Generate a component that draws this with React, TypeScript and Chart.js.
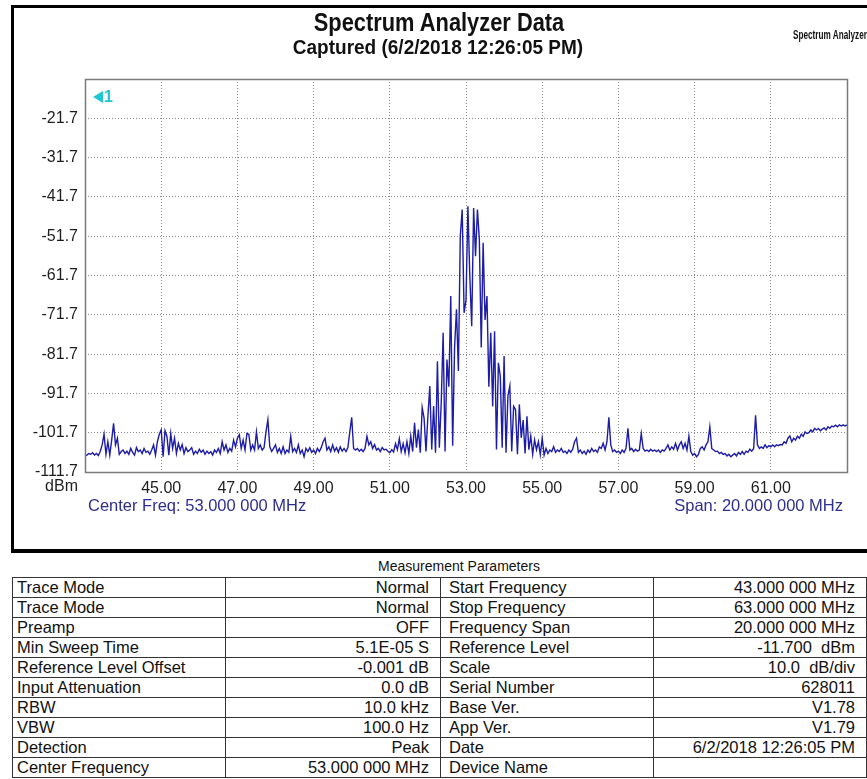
import React, { useEffect, useRef } from "react";
import { Chart, registerables } from "chart.js";

Chart.register(...registerables);

// ---- data ----
const START_MHZ = 43;
const STEP_MHZ = 0.05;
const X_MIN = 43;
const X_MAX = 63;
const Y_MIN = -111.7;
const Y_MAX = -11.7;
const X_TICKS = [45, 47, 49, 51, 53, 55, 57, 59, 61];
const Y_TICKS = [-111.7, -101.7, -91.7, -81.7, -71.7, -61.7, -51.7, -41.7, -31.7, -21.7, -11.7];

// 43.00 – 47.95 MHz
const LEVELS_A = [
  -107.6, -107.4, -107.0, -107.2, -106.8, -107.4, -107.0, -107.5, -106.5, -104.8, -102.1, -107.2, -104.0, -107.4, -103.6, -99.3, -104.8, -103.1, -107.2, -106.5,
  -106.1, -107.0, -106.4, -107.2, -105.7, -106.7, -107.4, -105.5, -106.5, -106.1, -107.0, -105.7, -106.7, -106.4, -107.2, -106.1, -104.8, -107.4, -104.0, -102.1,
  -101.0, -107.8, -101.2, -102.6, -107.4, -101.9, -105.7, -103.1, -107.0, -104.4, -106.1, -104.7, -107.0, -105.5, -106.5, -106.1, -105.5, -107.2, -106.4, -107.0,
  -105.9, -106.7, -106.1, -107.2, -106.4, -107.0, -106.5, -107.4, -106.1, -106.7, -105.7, -107.0, -104.0, -106.1, -104.8, -106.7, -105.7, -106.4, -103.6, -105.3,
  -103.1, -102.2, -105.7, -103.6, -106.1, -101.9, -102.1, -106.1, -104.8, -106.1, -101.5, -105.7, -104.8, -106.1, -105.5, -101.5, -98.4, -105.3, -106.5, -105.7,
];
// 48.00 – 52.95 MHz
const LEVELS_B = [
  -104.8, -106.7, -105.7, -107.0, -105.3, -107.0, -106.1, -106.7, -102.6, -106.5, -105.7, -106.7, -104.8, -107.0, -106.1, -107.8, -105.7, -106.5, -105.5, -106.7,
  -106.1, -107.0, -105.7, -106.5, -105.5, -104.0, -103.1, -106.1, -105.3, -106.5, -104.8, -106.4, -105.5, -106.7, -105.3, -106.4, -105.7, -106.5, -105.5, -101.5,
  -97.8, -105.7, -106.1, -105.7, -106.4, -105.9, -106.5, -105.7, -102.6, -104.8, -104.0, -105.7, -104.7, -106.1, -105.7, -106.5, -105.5, -106.1, -105.9, -106.4,
  -106.8, -106.0, -106.6, -104.5, -106.0, -103.2, -106.5, -104.5, -106.8, -104.0, -107.0, -102.5, -106.5, -99.2, -105.5, -100.9, -106.8, -95.3, -98.0, -106.5,
  -97.5, -89.8, -106.0, -94.9, -106.8, -83.5, -105.5, -94.0, -76.3, -106.5, -83.1, -90.0, -66.9, -105.0, -80.0, -70.3, -86.0, -51.7, -44.9, -71.2,
];
// 53.00 – 57.95 MHz
const LEVELS_C = [
  -68.0, -44.1, -61.9, -74.6, -44.5, -56.8, -44.9, -52.5, -80.0, -53.4, -73.0, -66.9, -90.0, -76.3, -95.0, -75.9, -106.0, -83.9, -87.3, -105.5,
  -82.2, -106.8, -92.4, -89.8, -106.5, -95.0, -95.8, -107.2, -94.5, -103.0, -98.5, -107.0, -97.5, -106.0, -102.5, -107.2, -103.5, -106.0, -104.0, -107.3,
  -103.1, -107.4, -105.7, -107.0, -106.1, -106.5, -105.3, -106.7, -106.1, -106.5, -105.7, -106.7, -106.4, -107.0, -106.1, -106.7, -105.9, -104.0, -103.1, -106.7,
  -106.1, -107.0, -106.4, -107.2, -106.1, -106.7, -105.7, -106.5, -106.1, -106.7, -105.3, -105.7, -104.4, -106.1, -104.0, -97.8, -104.8, -106.5, -106.1, -106.7,
  -106.4, -107.0, -106.1, -106.7, -105.7, -100.6, -106.1, -105.7, -106.5, -105.9, -106.4, -106.1, -101.9, -105.7, -106.4, -106.1, -106.5, -105.9, -106.4, -106.1,
];
// 58.00 – 63.00 MHz
const LEVELS_D = [
  -106.5, -106.1, -106.7, -106.1, -106.4, -105.7, -104.8, -106.1, -105.3, -105.9, -104.4, -106.1, -104.8, -104.0, -105.7, -104.4, -106.1, -102.6, -106.5, -107.4,
  -107.0, -107.8, -107.2, -105.7, -105.3, -106.1, -104.8, -104.0, -100.2, -105.7, -106.1, -106.5, -106.4, -107.0, -106.7, -107.2, -107.0, -107.6, -107.2, -107.8,
  -107.4, -107.0, -107.6, -106.7, -107.2, -106.5, -107.2, -106.4, -106.7, -105.9, -106.4, -105.7, -97.3, -104.8, -105.7, -105.3, -105.7, -104.8, -105.5, -105.0,
  -105.3, -104.8, -105.3, -104.8, -105.0, -104.7, -104.8, -104.0, -104.4, -103.1, -102.5, -104.0, -103.1, -103.6, -102.6, -103.1, -102.1, -102.6, -101.5, -101.9,
  -101.7, -101.0, -101.5, -100.6, -101.0, -100.6, -101.2, -100.8, -100.5, -101.0, -100.2, -100.6, -100.0, -100.2, -99.8, -100.2, -99.7, -100.0, -99.7, -100.0, -99.7,
];
const LEVELS = [...LEVELS_A, ...LEVELS_B, ...LEVELS_C, ...LEVELS_D];

const PARAM_NAMES_L = ["Trace Mode", "Trace Mode", "Preamp", "Min Sweep Time", "Reference Level Offset", "Input Attenuation", "RBW", "VBW", "Detection", "Center Frequency"];
const PARAM_VALUES_L = ["Normal", "Normal", "OFF", "5.1E-05 S", "-0.001 dB", "0.0 dB", "10.0 kHz", "100.0 Hz", "Peak", "53.000 000 MHz"];
const PARAM_NAMES_R = ["Start Frequency", "Stop Frequency", "Frequency Span", "Reference Level", "Scale", "Serial Number", "Base Ver.", "App Ver.", "Date", "Device Name"];
const PARAM_VALUES_R = ["43.000 000 MHz", "63.000 000 MHz", "20.000 000 MHz", "-11.700  dBm", "10.0  dB/div", "628011", "V1.78", "V1.79", "6/2/2018 12:26:05 PM", ""];

const FONT = "'Liberation Sans', Arial, sans-serif";

const framePlugin = {
  id: "plotFrame",
  afterDatasetsDraw(chart: any) {
    const { ctx, chartArea } = chart;
    ctx.save();
    ctx.strokeStyle = "#7a7a7a";
    ctx.lineWidth = 1.5;
    ctx.strokeRect(chartArea.left + 0.5, chartArea.top + 0.5, chartArea.right - chartArea.left, chartArea.bottom - chartArea.top);
    ctx.restore();
  },
};

const unitPlugin = {
  id: "unitLabel",
  afterDraw(chart: any) {
    const { ctx } = chart;
    const ys = chart.scales.y;
    ctx.save();
    ctx.font = `16px ${FONT}`;
    ctx.fillStyle = "#1e1e1e";
    ctx.textAlign = "right";
    ctx.textBaseline = "middle";
    ctx.fillText("dBm", ys.right - 7, ys.getPixelForValue(Y_MIN) + 15);
    ctx.restore();
  },
};

export default function App() {
  const ref = useRef<HTMLCanvasElement | null>(null);

  useEffect(() => {
    if (!ref.current) return;
    const points = LEVELS.map((v, i) => ({ x: Math.round((START_MHZ + i * STEP_MHZ) * 100) / 100, y: v }));
    const chart = new Chart(ref.current, {
      type: "line",
      data: {
        datasets: [
          {
            data: points,
            borderColor: "#1c1ca6",
            borderWidth: 1.4,
            pointRadius: 0,
            tension: 0,
            fill: false,
          },
        ],
      },
      options: {
        animation: false,
        responsive: false,
        maintainAspectRatio: false,
        plugins: { legend: { display: false }, tooltip: { enabled: false } },
        layout: { padding: { left: 0, right: 20, top: 79, bottom: 0 } },
        scales: {
          x: {
            type: "linear",
            min: X_MIN,
            max: X_MAX,
            afterBuildTicks: (s: any) => {
              s.ticks = X_TICKS.map((v) => ({ value: v }));
            },
            afterFit: (s: any) => {
              s.height = 68;
            },
            grid: { color: "#8a8a8a", lineWidth: 1, drawTicks: false },
            border: { display: false, dash: [1, 2] },
            ticks: {
              padding: 7,
              color: "#1e1e1e",
              font: { family: FONT, size: 16 },
              maxRotation: 0,
              autoSkip: false,
              callback: (v: any) => Number(v).toFixed(2),
            },
          },
          y: {
            type: "linear",
            min: Y_MIN,
            max: Y_MAX,
            afterBuildTicks: (s: any) => {
              s.ticks = Y_TICKS.map((v) => ({ value: v }));
            },
            afterFit: (s: any) => {
              s.width = 85;
            },
            grid: { color: "#8a8a8a", lineWidth: 1, drawTicks: false },
            border: { display: false, dash: [1, 2] },
            ticks: {
              padding: 7,
              color: "#1e1e1e",
              font: { family: FONT, size: 16 },
              autoSkip: false,
              callback: (v: any) => (Math.abs(Number(v) - Y_MAX) < 1e-6 ? "" : Number(v).toFixed(1)),
            },
          },
        },
      },
      plugins: [framePlugin, unitPlugin],
    });
    return () => chart.destroy();
  }, []);

  const abs = (s: React.CSSProperties): React.CSSProperties => ({ position: "absolute", ...s });

  const cell: React.CSSProperties = {
    border: "1px solid #333",
    padding: "0 4px",
    height: 19,
    lineHeight: "19px",
    fontSize: 16.5,
    color: "#111",
    whiteSpace: "nowrap",
    overflow: "hidden",
  };

  return (
    <div style={abs({ left: 0, top: 0, width: 867, height: 779, overflow: "hidden", background: "#fff", fontFamily: FONT })}>
      <div style={abs({ left: 11, top: 5, width: 920, height: 548, boxSizing: "border-box", border: "3px solid #000", borderBottomWidth: 4, borderRight: "none" })} />
      <canvas ref={ref} width={867} height={540} style={abs({ left: 0, top: 0, width: 867, height: 540 })} />

      <div style={abs({ left: 439, top: 8, transform: "translateX(-50%) scaleX(0.84)", fontSize: 26, fontWeight: "bold", color: "#111", whiteSpace: "nowrap", lineHeight: "28px" })}>
        Spectrum Analyzer Data
      </div>
      <div style={abs({ left: 438, top: 36, transform: "translateX(-50%) scaleX(0.95)", fontSize: 20, fontWeight: "bold", color: "#111", whiteSpace: "nowrap", lineHeight: "22px" })}>
        Captured (6/2/2018 12:26:05 PM)
      </div>
      <div style={abs({ left: 793, top: 27, transform: "scaleX(0.63)", transformOrigin: "left center", fontSize: 13, fontWeight: "bold", color: "#111", whiteSpace: "nowrap", lineHeight: "15px" })}>
        Spectrum Analyzer
      </div>

      <div style={abs({ left: 93, top: 91, width: 0, height: 0, borderTop: "6px solid transparent", borderBottom: "6px solid transparent", borderRight: "10px solid #1fc6d6" })} />
      <div style={abs({ left: 104, top: 88, fontSize: 16, fontWeight: "bold", color: "#1fc6d6", lineHeight: "18px" })}>1</div>

      <div style={abs({ left: 88, top: 496, fontSize: 16.5, color: "#2e2e8c", whiteSpace: "nowrap", lineHeight: "18px" })}>
        Center Freq: 53.000 000 MHz
      </div>
      <div style={abs({ right: 867 - 843, top: 496, fontSize: 16.5, color: "#2e2e8c", whiteSpace: "nowrap", lineHeight: "18px" })}>
        Span: 20.000 000 MHz
      </div>

      <div style={abs({ left: 459, top: 558, transform: "translateX(-50%)", fontSize: 14, color: "#111", whiteSpace: "nowrap", lineHeight: "16px" })}>
        Measurement Parameters
      </div>
      <table style={abs({ left: 12, top: 577, width: 854, borderCollapse: "collapse", tableLayout: "fixed" })}>
        <colgroup>
          <col style={{ width: 213 }} />
          <col style={{ width: 215 }} />
          <col style={{ width: 213 }} />
          <col style={{ width: 213 }} />
        </colgroup>
        <tbody>
          {PARAM_NAMES_L.map((name, i) => (
            <tr key={i}>
              <td style={cell}>{name}</td>
              <td style={{ ...cell, textAlign: "right", paddingRight: 11 }}>{PARAM_VALUES_L[i]}</td>
              <td style={{ ...cell, paddingLeft: 8 }}>{PARAM_NAMES_R[i]}</td>
              <td style={{ ...cell, textAlign: "right", paddingRight: 11, whiteSpace: "pre" }}>{PARAM_VALUES_R[i]}</td>
            </tr>
          ))}
        </tbody>
      </table>
    </div>
  );
}
